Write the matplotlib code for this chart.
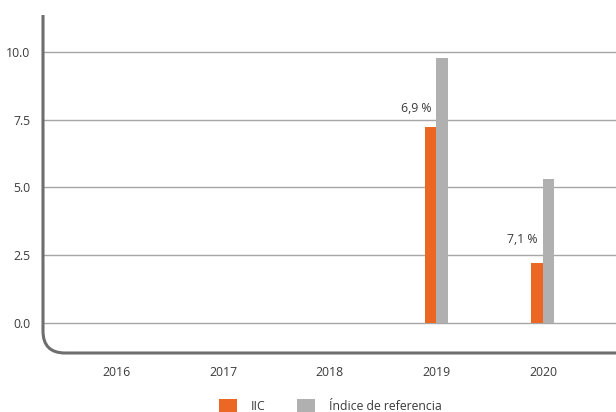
import matplotlib
matplotlib.use("Agg")
import matplotlib.pyplot as plt
import numpy as np
from matplotlib.path import Path
from matplotlib.patches import PathPatch, Patch

categories = ["2016", "2017", "2018", "2019", "2020"]
iic = [0, 0, 0, 7.23, 2.2]
indice = [0, 0, 0, 9.78, 5.31]
labels = ["", "", "", "6,9 %", "7,1 %"]
label_pos = [None, None, None, 7.93, 3.09]
series_names = ["IIC", "Índice de referencia"]
yticks = [0.0, 2.5, 5.0, 7.5, 10.0]

ORANGE = "#EC6624"
GRAY = "#B0B0B0"
TXT = "#3a3a3a"

plt.rcParams['font.family'] = ['Open Sans', 'DejaVu Sans']

W, H = 616, 412
fig = plt.figure(figsize=(W/100, H/100), dpi=100)
ax_l, ax_r, ax_t, ax_b = 43, 616, 15, 353
ax = fig.add_axes([ax_l/W, 1-ax_b/H, (ax_r-ax_l)/W, (ax_b-ax_t)/H])

x = np.arange(len(categories))
w = 0.108
ax.bar(x - w/2, iic, width=w, color=ORANGE, zorder=3)
ax.bar(x + w/2, indice, width=w, color=GRAY, zorder=3)

for i, (lab, yp) in enumerate(zip(labels, label_pos)):
    if lab:
        ax.text(i - 0.19, yp, lab, ha='center', va='center', fontsize=8.8, color=TXT)

ax.set_xlim(-0.69, 4.685)
ax.set_ylim(-1.12, 11.37)
ax.set_yticks(yticks)
ax.set_yticklabels([f"{v:.1f}" for v in yticks])
ax.set_xticks(x)
ax.set_xticklabels(categories)
ax.tick_params(length=0, labelsize=8.8, labelcolor=TXT)
ax.tick_params(axis='y', pad=9)
ax.tick_params(axis='x', pad=9)
for s in ax.spines.values():
    s.set_visible(False)
ax.yaxis.grid(True, color="#A6A6A6", linewidth=1.0, zorder=0)
ax.set_axisbelow(True)

# rounded L-shaped frame in figure coordinates
r = 22
def fx(px):
    return px / W
def fy(py):
    return 1 - py / H
verts = [
    (fx(ax_l), fy(ax_t)),
    (fx(ax_l), fy(ax_b - r)),
    (fx(ax_l), fy(ax_b)),
    (fx(ax_l + r), fy(ax_b)),
    (fx(ax_r), fy(ax_b)),
]
codes = [Path.MOVETO, Path.LINETO, Path.CURVE3, Path.CURVE3, Path.LINETO]
frame = PathPatch(Path(verts, codes), facecolor='none', edgecolor="#6E6E6E",
                  linewidth=2.2, transform=fig.transFigure, clip_on=False)
fig.patches.append(frame)

handles = [Patch(facecolor=ORANGE, edgecolor='none'), Patch(facecolor=GRAY, edgecolor='none')]
fig.legend(handles, series_names, loc='center', bbox_to_anchor=(330/W, 1-406/H),
           ncol=2, frameon=False, fontsize=8.8, handlelength=1.5, handleheight=1.2,
           columnspacing=2.6, handletextpad=1.1, labelcolor=TXT)

fig.savefig("out.png", dpi=100)
